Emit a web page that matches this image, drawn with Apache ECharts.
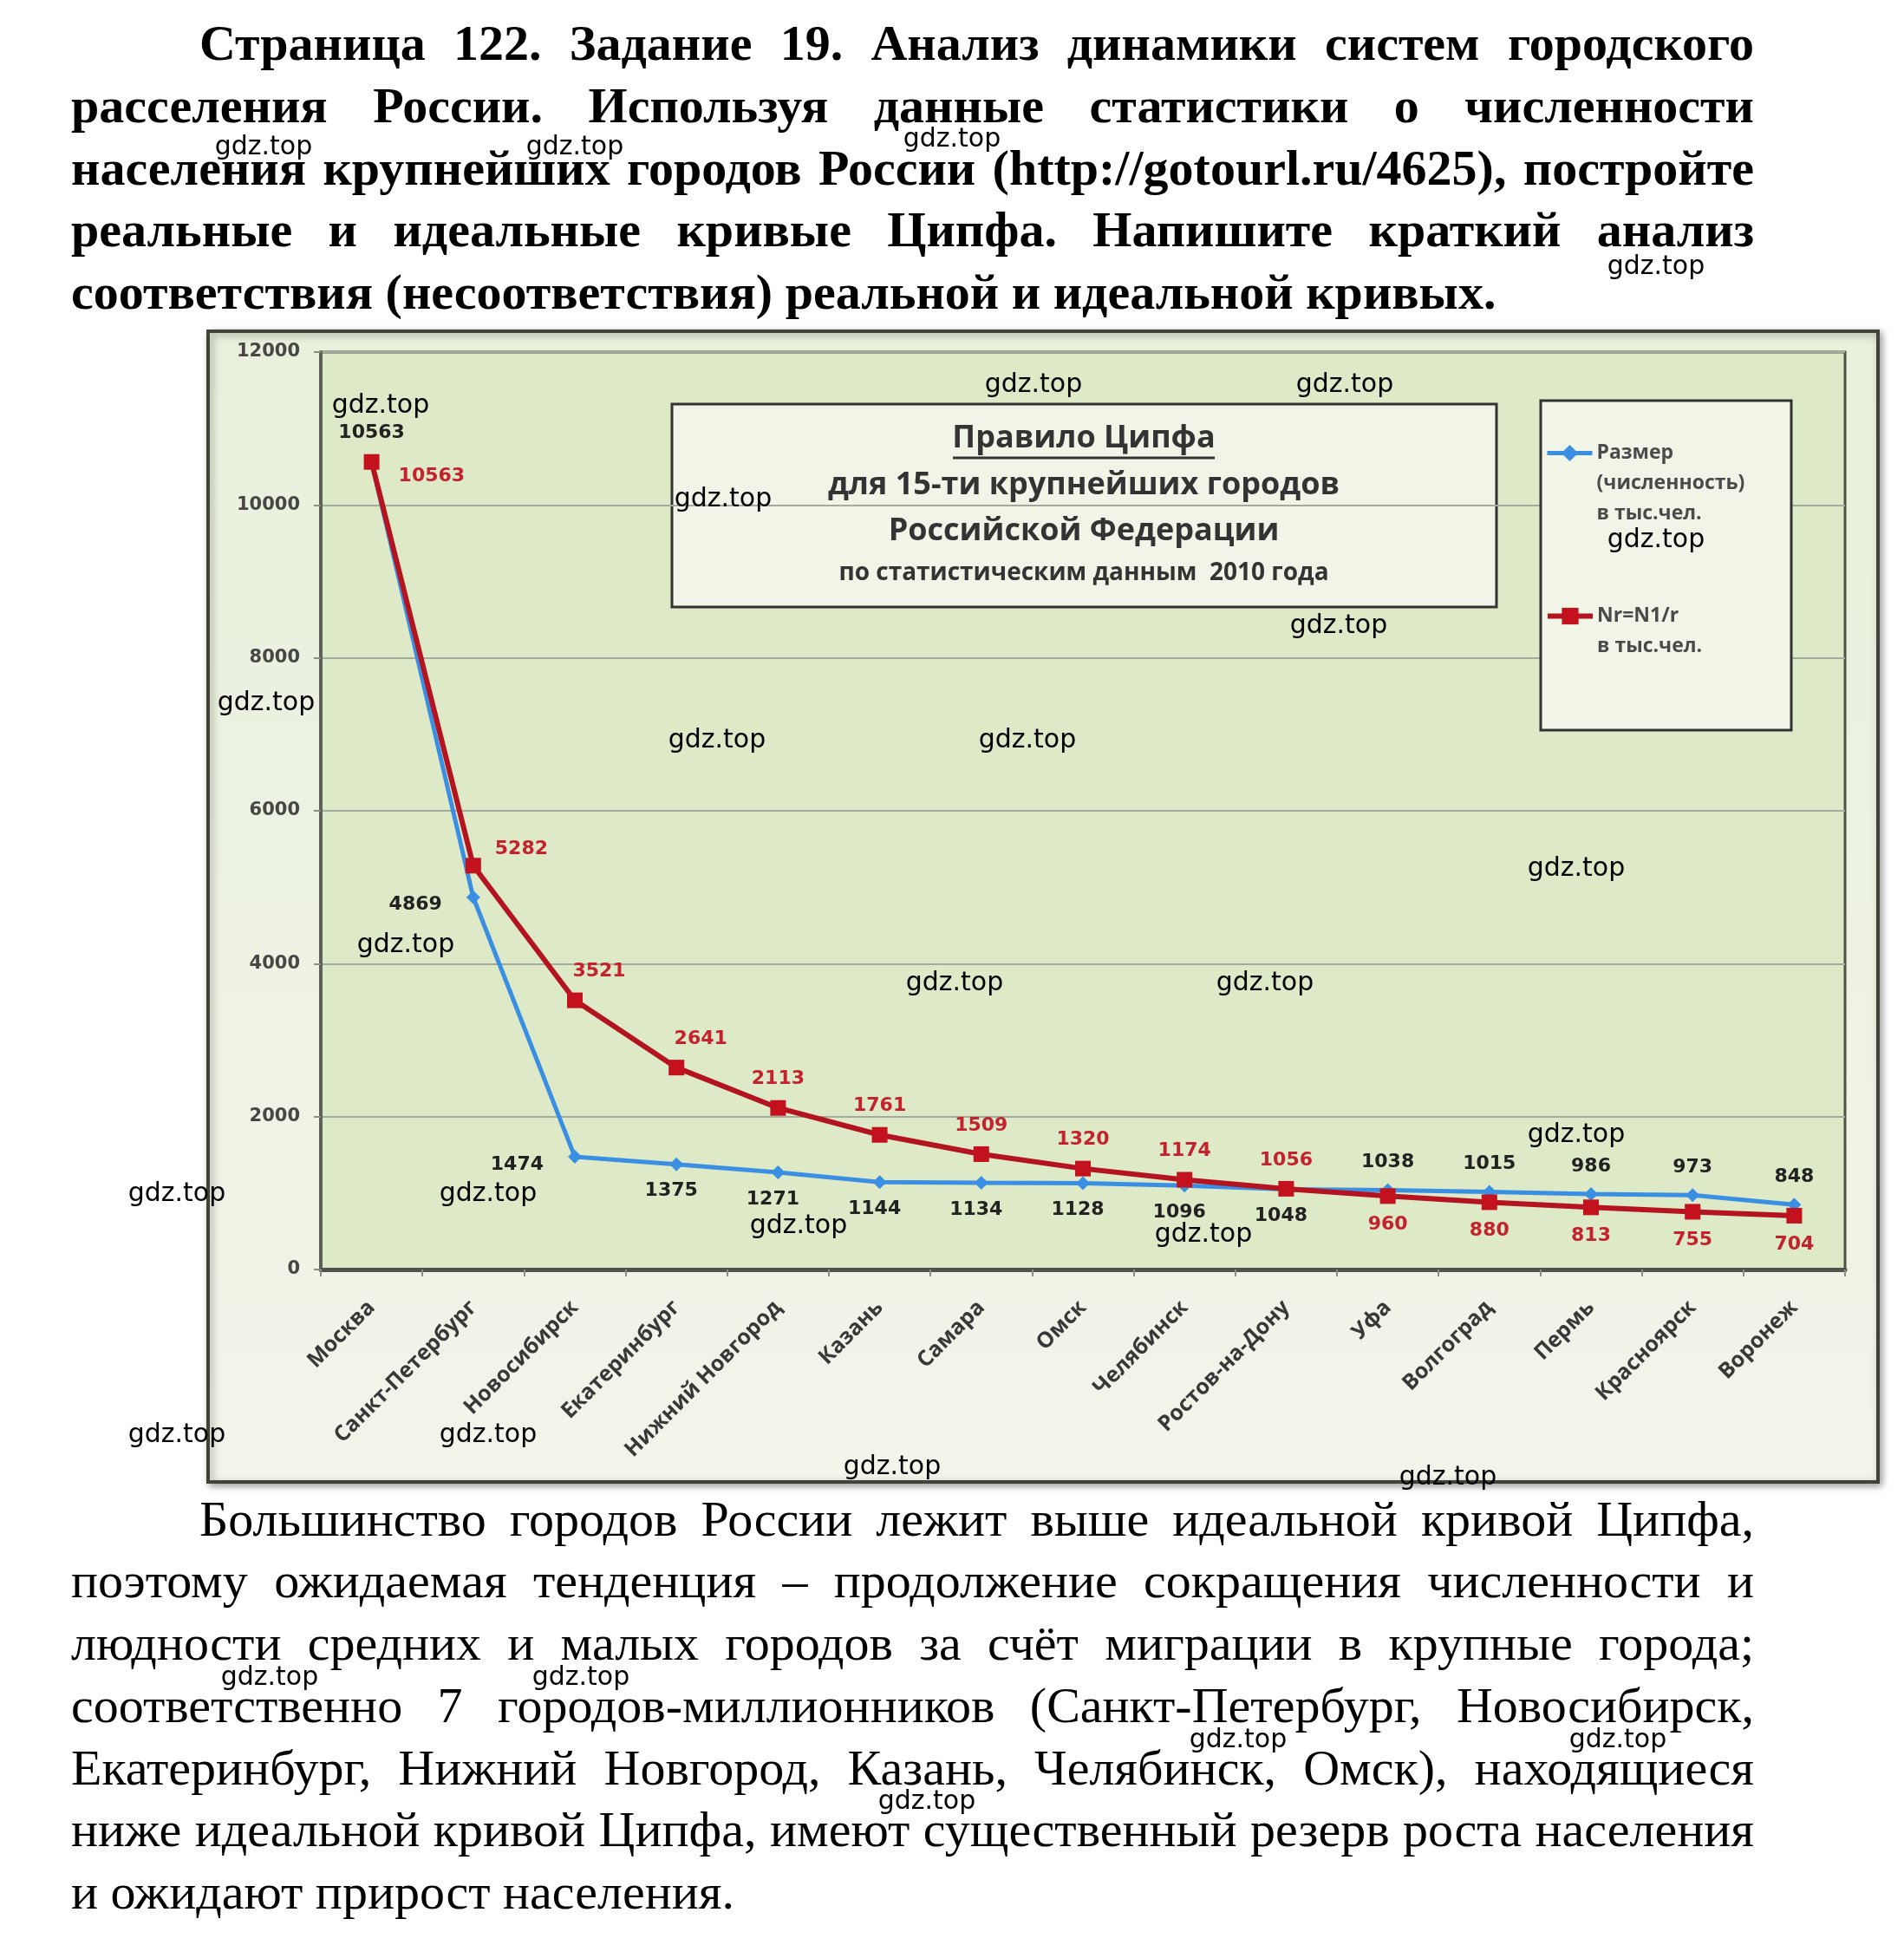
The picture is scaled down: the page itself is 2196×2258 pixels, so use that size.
<!DOCTYPE html>
<html><head><meta charset="utf-8">
<script src="https://cdn.jsdelivr.net/npm/echarts@6/dist/echarts.min.js"></script>
<style>
html,body{margin:0;padding:0;background:#fff;}
#page{position:relative;width:2196px;height:2258px;overflow:hidden;background:#fff;}
#chart{position:absolute;left:0;top:0;width:2196px;height:2258px;}
.ln{position:absolute;left:82px;width:1941px;height:72px;line-height:72px;font-family:"Liberation Serif","Times New Roman",serif;color:#000;text-align:justify;text-align-last:justify;white-space:nowrap;}
.b{font-weight:bold;font-size:58px;}
.r{font-size:58px;}
.ind{left:230px;width:1793px;}
.last{text-align:left;text-align-last:left;}
.wm{position:absolute;font-family:"DejaVu Sans",sans-serif;font-size:30px;color:#000;transform:translate(-50%,-50%);white-space:nowrap;z-index:5;line-height:1;}
</style></head>
<body><div id="page">
<div id="chart"></div>
<div id="texts"></div>
<div id="wms"></div>
</div>
<script>
// ---- data ----
const cities = ['Москва','Санкт-Петербург','Новосибирск','Екатеринбург','Нижний Новгород','Казань','Самара','Омск','Челябинск','Ростов-на-Дону','Уфа','Волгоград','Пермь','Красноярск','Воронеж'];
const sizeValues = [10563,4869,1474,1375,1271,1144,1134,1128,1096,1048,1038,1015,986,973,848];
const zipfValues = [10563,5282,3521,2641,2113,1761,1509,1320,1174,1056,960,880,813,755,704];
const yMin = 0, yMax = 12000, yStep = 2000;
const sizeName = 'Размер';
const zipfName = 'Nr=N1/r';
const titleLines = ['Правило Ципфа','для 15-ти крупнейших городов','Российской Федерации','по статистическим данным  2010 года'];
const topLines = [
 'Страница 122. Задание 19. Анализ динамики систем городского',
 'расселения России. Используя данные статистики о численности',
 'населения крупнейших городов России (http://gotourl.ru/4625), постройте',
 'реальные и идеальные кривые Ципфа. Напишите краткий анализ',
 'соответствия (несоответствия) реальной и идеальной кривых.'
];
const bottomLines = [
 'Большинство городов России лежит выше идеальной кривой Ципфа,',
 'поэтому ожидаемая тенденция – продолжение сокращения численности и',
 'людности средних и малых городов за счёт миграции в крупные города;',
 'соответственно 7 городов-миллионников (Санкт-Петербург, Новосибирск,',
 'Екатеринбург, Нижний Новгород, Казань, Челябинск, Омск), находящиеся',
 'ниже идеальной кривой Ципфа, имеют существенный резерв роста населения',
 'и ожидают прирост населения.'
];
const watermark = 'gdz.top';

// ---- page text ----
const texts = document.getElementById('texts');
function addLines(lines, centers, cls){
  lines.forEach((t,i)=>{
    const d = document.createElement('div');
    d.className = 'ln ' + cls + (i===0?' ind':'') + (i===lines.length-1?' last':'');
    d.style.top = (centers[i]-36)+'px';
    d.textContent = t;
    texts.appendChild(d);
  });
}
addLines(topLines,[50,122,194,265,337],'b');
addLines(bottomLines,[1752,1823,1895,1967,2039,2110,2182],'r');

const wmPos = [[304,168],[663,168],[1098,159],[1910,306],[439,466],[1192,442],[1551,442],[834,574],[1910,621],[1544,720],[307,809],[827,852],[1185,852],[1818,1000],[468,1088],[1101,1132],[1459,1132],[1818,1307],[204,1375],[563,1375],[921,1412],[1388,1422],[204,1653],[563,1653],[1029,1690],[1670,1702],[311,1933],[670,1933],[1428,2005],[1866,2005],[1069,2076]];
const wms = document.getElementById('wms');
wmPos.forEach(p=>{
  const d=document.createElement('div'); d.className='wm';
  d.style.left=p[0]+'px'; d.style.top=p[1]+'px'; d.textContent=watermark; wms.appendChild(d);
});

// ---- chart ----
const labelFont = {fontFamily:'"DejaVu Sans", sans-serif', fontWeight:'bold', fontSize:22};
function blueLabel(i){
  const v = sizeValues[i], r = zipfValues[i];
  let o;
  if (i===0) o = {position:'top', distance:14};
  else if (i<3) o = {position:'left', distance:28, offset:[0,9]};
  else if (v <= r) o = {position:'bottom', distance:12, offset:[-6,0]};
  else o = {position:'top', distance:13};
  return Object.assign({show:true,color:'#222'}, labelFont, o);
}
function zipfLabel(i){
  const v = zipfValues[i], b = sizeValues[i];
  let o;
  if (i===0) o = {position:'right', distance:22, offset:[0,17]};
  else if (i===1) o = {position:'right', distance:16, offset:[0,-19]};
  else if (v >= b) o = {position:'top', distance:13, offset:[i<4?28:0,0]};
  else o = {position:'bottom', distance:13};
  return Object.assign({show:true,color:'#c4222c'}, labelFont, o);
}

const chart = echarts.init(document.getElementById('chart'), null, {renderer:'canvas'});
const gx = 370, gy = 406, gw = 1758, gh = 1058;
const legendText = {fontFamily:'"Open Sans", sans-serif', fontWeight:'bold', fontSize:23, color:'#4a4a4a', lineHeight:35};
chart.setOption({
  animation:false,
  backgroundColor:'transparent',
  grid:{left:gx, top:gy, width:gw, height:gh, show:true, backgroundColor:'#dde9c7', borderColor:'#4d5245', borderWidth:3},
  xAxis:{type:'category', data:cities, boundaryGap:true,
    axisLine:{lineStyle:{color:'#50534c', width:5}},
    axisTick:{show:true, length:8, lineStyle:{color:'#8a8f85', width:2}},
    axisLabel:{rotate:45, margin:40, color:'#383838', fontFamily:'"Open Sans", sans-serif', fontWeight:'bold', fontSize:25}},
  yAxis:{type:'value', min:yMin, max:yMax, interval:yStep,
    axisLine:{show:true, lineStyle:{color:'#5d6158', width:4}},
    axisTick:{show:true, length:8, lineStyle:{color:'#8a8f85', width:2}},
    splitLine:{lineStyle:{color:'#a3aa9e', width:2}},
    axisLabel:{margin:24, color:'#474845', fontFamily:'"DejaVu Sans", sans-serif', fontWeight:'bold', fontSize:21, formatter:(v)=>String(v)}},
  legend:[
    {data:[sizeName], left:1782, top:435, padding:0, itemWidth:52, itemHeight:24, itemGap:0, z:8,
      lineStyle:{width:5}, formatter:()=>'\n\n'+sizeName+'\n(численность)\nв тыс.чел.', textStyle:legendText, selectedMode:false},
    {data:[zipfName], left:1782, top:658, padding:0, itemWidth:52, itemHeight:24, itemGap:0, z:8,
      lineStyle:{width:6}, formatter:()=>'\n'+zipfName+'\nв тыс.чел.', textStyle:legendText, selectedMode:false}
  ],
  graphic:[
    {type:'rect', z:-20, shape:{x:240,y:382,width:1926,height:1327},
      style:{fill:new echarts.graphic.LinearGradient(0,0,0,1,[{offset:0,color:'#e9f0dc'},{offset:1,color:'#f1f5ea'}]), stroke:'#3f4338', lineWidth:4, shadowBlur:8, shadowColor:'rgba(0,0,0,0.35)', shadowOffsetX:3, shadowOffsetY:3}},
    {type:'group', z:6, children:[
      {type:'rect', shape:{x:775,y:466,width:951,height:234}, style:{fill:'#f1f5e8', stroke:'#333', lineWidth:3}},
      {type:'text', style:{text:titleLines[0], x:1250, y:506, align:'center', verticalAlign:'middle', fontFamily:'"Open Sans", sans-serif', fontWeight:'bold', fontSize:36, fill:'#333'}},
      {type:'line', shape:{x1:1099,y1:528,x2:1401,y2:528}, style:{stroke:'#333', lineWidth:3}},
      {type:'text', style:{text:titleLines[1], x:1250, y:560, align:'center', verticalAlign:'middle', fontFamily:'"Open Sans", sans-serif', fontWeight:'bold', fontSize:36, fill:'#333'}},
      {type:'text', style:{text:titleLines[2], x:1250, y:613, align:'center', verticalAlign:'middle', fontFamily:'"Open Sans", sans-serif', fontWeight:'bold', fontSize:36, fill:'#333'}},
      {type:'text', style:{text:titleLines[3], x:1250, y:661, align:'center', verticalAlign:'middle', fontFamily:'"Open Sans", sans-serif', fontWeight:'bold', fontSize:28, fill:'#333'}}
    ]},
    {type:'rect', z:6, shape:{x:1777,y:462,width:289,height:380}, style:{fill:'#f1f5e8', stroke:'#333', lineWidth:3}}
  ],
  series:[
    {name:sizeName, type:'line', z:3, data:sizeValues.map((v,i)=>({value:v, label:blueLabel(i)})),
      symbol:'diamond', symbolSize:16, lineStyle:{color:'#3b8fe3', width:5}, itemStyle:{color:'#3b8fe3'}},
    {name:zipfName, type:'line', z:4, data:zipfValues.map((v,i)=>({value:v, label:zipfLabel(i)})),
      symbol:'rect', symbolSize:18, lineStyle:{color:'#b3141f', width:6}, itemStyle:{color:'#c3111d'}}
  ]
});
</script>
</body></html>
